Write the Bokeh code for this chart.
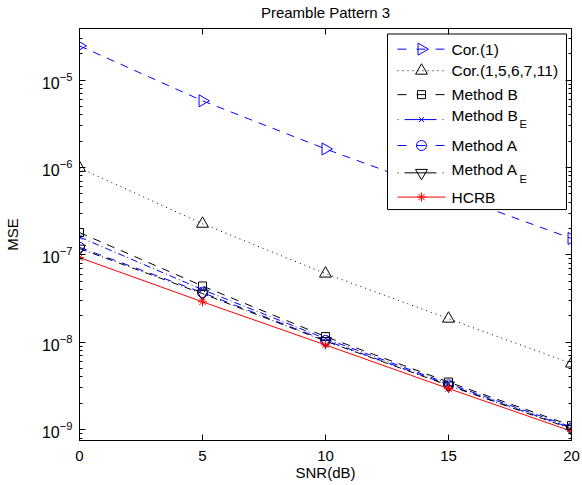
from bokeh.plotting import figure
from bokeh.models import (LogAxis, LinearAxis, FixedTicker, CustomJSTickFormatter,
                          LogTickFormatter, Range1d, LinearScale)
from bokeh.core.properties import value
from bokeh.embed import file_html
from bokeh.resources import INLINE

# ---- data ----
snr = [0, 5, 10, 15, 20]
cor_1 = [2.47e-5, 5.8e-6, 1.63e-6, 5.0e-7, 1.54e-7]
cor_multi = [9.9e-7, 2.27e-7, 6.1e-8, 1.86e-8, 5.7e-9]
method_b = [1.8e-7, 4.4e-8, 1.16e-8, 3.5e-9, 1.11e-9]
method_be = [1.6e-7, 4.0e-8, 1.1e-8, 3.35e-9, 1.07e-9]
method_a = [1.22e-7, 3.7e-8, 1.05e-8, 3.25e-9, 1.04e-9]
method_ae = [1.18e-7, 3.6e-8, 1.03e-8, 3.2e-9, 1.02e-9]
hcrb = [9.3e-8, 2.9e-8, 9.3e-9, 2.95e-9, 9.6e-10]

labels = ["Cor.(1)", "Cor.(1,5,6,7,11)", "Method B", "Method B", "Method A", "Method A", "HCRB"]
subscripts = ["", "", "", "E", "", "E", ""]

x_ticks = [0, 5, 10, 15, 20]
y_major = [1e-9, 1e-8, 1e-7, 1e-6, 1e-5]
title_text = "Preamble Pattern 3"

FONT = "Liberation Sans"
W, H = 582, 485
BL, BR, BT, BB = 79, 11, 27, 45

p = figure(width=W, height=H, y_axis_type="log",
           x_range=Range1d(0, 20), y_range=Range1d(7.5e-10, 3.9e-5),
           output_backend="svg", toolbar_location=None,
           min_border_left=BL, min_border_right=BR, min_border_top=BT, min_border_bottom=BB)

p.xgrid.visible = False
p.ygrid.visible = False
p.outline_line_color = "black"
p.outline_line_alpha = 1
p.background_fill_color = "white"
p.border_fill_color = "white"

y_minor = [m * d / 10 for d in [1e-9, 1e-8, 1e-7, 1e-6, 1e-5, 1e-4] for m in range(2, 10)]
yt = FixedTicker(ticks=y_major, minor_ticks=y_minor)
xt = FixedTicker(ticks=x_ticks)

def style_axis(ax):
    ax.axis_line_color = "black"
    ax.major_tick_in = 6
    ax.major_tick_out = 0
    ax.minor_tick_in = 3
    ax.minor_tick_out = 0
    ax.major_tick_line_color = "black"
    ax.minor_tick_line_color = "black"
    ax.major_label_text_font = FONT
    ax.major_label_text_font_size = "15px"
    ax.major_label_text_color = "black"
    ax.axis_label_text_font = FONT
    ax.axis_label_text_font_size = "15px"
    ax.axis_label_text_font_style = "normal"
    ax.axis_label_text_color = "black"

xa = p.xaxis[0]
xa.ticker = xt
style_axis(xa)
xa.axis_label = "SNR(dB)"
xa.major_label_standoff = 10
xa.axis_label_standoff = 0

ya = p.yaxis[0]
ya.ticker = yt
ya.formatter = LogTickFormatter()
style_axis(ya)
ya.major_label_text_font_size = "16px"
ya.axis_label = "MSE"
ya.major_label_standoff = 7
ya.axis_label_standoff = 18

# top axis: inward ticks, no tick labels, carries the chart title
top = LinearAxis(ticker=xt, formatter=CustomJSTickFormatter(code="return ''"))
style_axis(top)
top.major_label_text_font_size = "0px"
top.major_label_standoff = 0
top.axis_label = title_text
top.axis_label_standoff = 8
p.add_layout(top, "above")

right = LogAxis(ticker=yt, formatter=CustomJSTickFormatter(code="return ''"))
style_axis(right)
right.major_label_text_font_size = "0px"
right.major_label_standoff = 0
p.add_layout(right, "right")

BLUE = "#0000ff"
RED = "#ff0000"
BLACK = "#000000"

# (values, colour, plot dash, legend dash, marker, angle, size)
series = [
    (cor_1, BLUE, "8 7", "9 10", "triangle", -1.5708, 12),
    (cor_multi, BLACK, "1 4", "1 4", "triangle", 0.0, 12),
    (method_b, BLACK, "8 7", "9 10", "square", 0.0, 8),
    (method_be, BLUE, "7 3 1 3", "1 6 32 6", "x", 0.0, 7),
    (method_a, BLUE, "8 7", "9 10", "circle", 0.0, 10),
    (method_ae, BLACK, "7 3 1 3", "1 6 32 6", "inverted_triangle", 0.0, 12),
    (hcrb, RED, "solid", "solid", "asterisk", 0.0, 9),
]

for vals, col, dash, ldash, marker, ang, size in series:
    p.line(snr, vals, line_color=col, line_dash=dash, line_width=1)
    p.scatter(snr, vals, marker=marker, angle=ang, size=size,
              line_color=col, fill_color=None, line_width=1)

# ---- hand-drawn legend, in page-pixel coordinates of the frame ----
p.extra_x_ranges["leg"] = Range1d(BL, W - BR)
p.extra_y_ranges["leg"] = Range1d(H - BB, BT)
p.extra_x_scales["leg"] = LinearScale()
p.extra_y_scales["leg"] = LinearScale()
LEG_BOX = dict(left=387, right=566, top=32.5, bottom=208.5)
row_y = [47.7, 69.3, 93.3, 118.3, 144.3, 171.7, 196]
text_y = [47.7, 69.3, 93.3, 114.5, 144.3, 168, 196]
sub_y = [0, 0, 0, 123, 0, 177.5, 0]
LX0, LX1, LXM, TX, SX = 397, 445, 421, 451, 519

p.quad(left=[LEG_BOX["left"]], right=[LEG_BOX["right"]], top=[LEG_BOX["top"]],
       bottom=[LEG_BOX["bottom"]], x_range_name="leg", y_range_name="leg",
       fill_color="white", line_color="black", line_width=1)
for i, (vals, col, dash, ldash, marker, ang, size) in enumerate(series):
    p.line([LX0, LX1], [row_y[i], row_y[i]], x_range_name="leg", y_range_name="leg",
           line_color=col, line_dash=ldash, line_width=1)
    p.scatter([LXM], [row_y[i]], x_range_name="leg", y_range_name="leg",
              marker=marker, angle=ang, size=size, line_color=col, fill_color=None, line_width=1)
    p.text([TX], [text_y[i]], text=[labels[i]], x_range_name="leg", y_range_name="leg",
           text_font=value(FONT), text_font_size="15.5px", text_color="black",
           text_baseline="middle", text_align="left")
    if subscripts[i]:
        p.text([SX], [sub_y[i]], text=[subscripts[i]], x_range_name="leg", y_range_name="leg",
               text_font=value(FONT), text_font_size="11px", text_color="black",
               text_baseline="middle", text_align="left")

open("out.html", "w").write(file_html(p, INLINE))
